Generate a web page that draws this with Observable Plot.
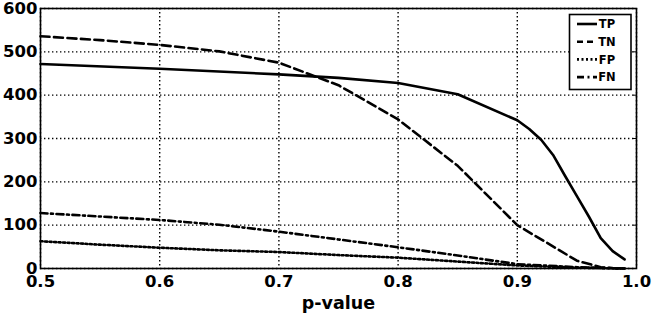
<!DOCTYPE html>
<html><head><meta charset="utf-8">
<script src="https://cdn.jsdelivr.net/npm/d3@7"></script>
<script src="https://cdn.jsdelivr.net/npm/@observablehq/plot@0.6"></script>
<style>body{margin:0;background:#fff}</style>
</head><body><div id="chart"></div>
<script>
const xTicks = [0.5, 0.6, 0.7, 0.8, 0.9, 1.0];
const yTicks = [0, 100, 200, 300, 400, 500, 600];
const xLabel = "p-value";

const tpP = [0.5, 0.6, 0.7, 0.75, 0.8, 0.85, 0.9, 0.91, 0.92, 0.93, 0.94, 0.95, 0.96, 0.97, 0.98, 0.99];
const tpV = [472, 461, 448, 440, 428, 402, 342, 322, 297, 262, 214, 167, 120, 70, 40, 21];

const tnP = [0.5, 0.55, 0.6, 0.65, 0.7, 0.75, 0.8, 0.85, 0.9, 0.95, 0.97, 0.98, 0.99];
const tnV = [536, 527, 516, 501, 475, 423, 344, 237, 100, 18, 3, 1, 0];

const fpP = [0.5, 0.55, 0.6, 0.65, 0.7, 0.75, 0.8, 0.85, 0.9, 0.95, 0.99];
const fpV = [63, 55, 48, 42, 38, 31, 25, 16, 7, 2, 0];

const fnP = [0.5, 0.55, 0.6, 0.65, 0.7, 0.75, 0.8, 0.85, 0.9, 0.95, 0.99];
const fnV = [128, 120, 112, 101, 85, 67, 49, 30, 10, 3, 0];

const seriesNames = ["TP", "TN", "FP", "FN"];
const dashes = [null, "9,4.5", "2,2.5", "7,3.5,2,3.5"];

const toRows = (ps, vs) => ps.map((p, i) => ({p, v: vs[i]}));
const seriesRows = [toRows(tpP, tpV), toRows(tnP, tnV), toRows(fpP, fpV), toRows(fnP, fnV)];

const font = "'DejaVu Sans', sans-serif";
const lw = 2.6;
const gridStyle = {stroke: "black", strokeOpacity: 1, strokeWidth: 1.4, strokeDasharray: "1.4,2.6"};

const chart = Plot.plot({
  width: 653, height: 313,
  marginLeft: 40, marginRight: 17, marginTop: 8, marginBottom: 45,
  style: {fontFamily: font, fontWeight: "bold", background: "white", color: "black", overflow: "visible"},
  x: {domain: [0.5, 1.0]},
  y: {domain: [0, 600]},
  marks: [
    Plot.ruleX(xTicks, gridStyle),
    Plot.ruleY(yTicks, gridStyle),
    ...seriesRows.map((rows, i) => Plot.line(rows, {x: "p", y: "v", stroke: "black", strokeWidth: lw, strokeDasharray: dashes[i]})),
    Plot.frame({stroke: "black", strokeWidth: 1.6}),
    Plot.axisX(xTicks, {tickSize: 0, tickPadding: 7, tickFormat: d => d.toFixed(1), fontSize: 16.5, fontWeight: "bold", label: null}),
    Plot.axisY(yTicks, {tickSize: 0, tickPadding: 3, fontSize: 16.5, fontWeight: "bold", label: null}),
    Plot.axisY(yTicks, {anchor: "right", tickSize: -4, tickFormat: () => "", label: null}),
    Plot.text([xLabel], {frameAnchor: "bottom", lineAnchor: "middle", dy: 34.5, fontSize: 17.5, fontWeight: "bold", fill: "black"})
  ]
});

// legend
const svg = d3.select(chart);
const lg = svg.append("g").attr("font-family", font).attr("font-weight", "bold").attr("font-size", 11.5);
lg.append("rect").attr("x", 569.5).attr("y", 14.5).attr("width", 61.5).attr("height", 75)
  .attr("fill", "white").attr("stroke", "black").attr("stroke-width", 1.6);
seriesNames.forEach((name, i) => {
  const yy = 24 + i * 17.7;
  const l = lg.append("line").attr("x1", 577).attr("x2", 597).attr("y1", yy).attr("y2", yy)
    .attr("stroke", "black").attr("stroke-width", lw);
  if (dashes[i]) l.attr("stroke-dasharray", i === 1 ? "6,4" : dashes[i]);
  lg.append("text").attr("x", 607).attr("y", yy).attr("dy", "0.36em").attr("fill", "black").text(name);
});

document.getElementById("chart").append(chart);
</script>
</body></html>
